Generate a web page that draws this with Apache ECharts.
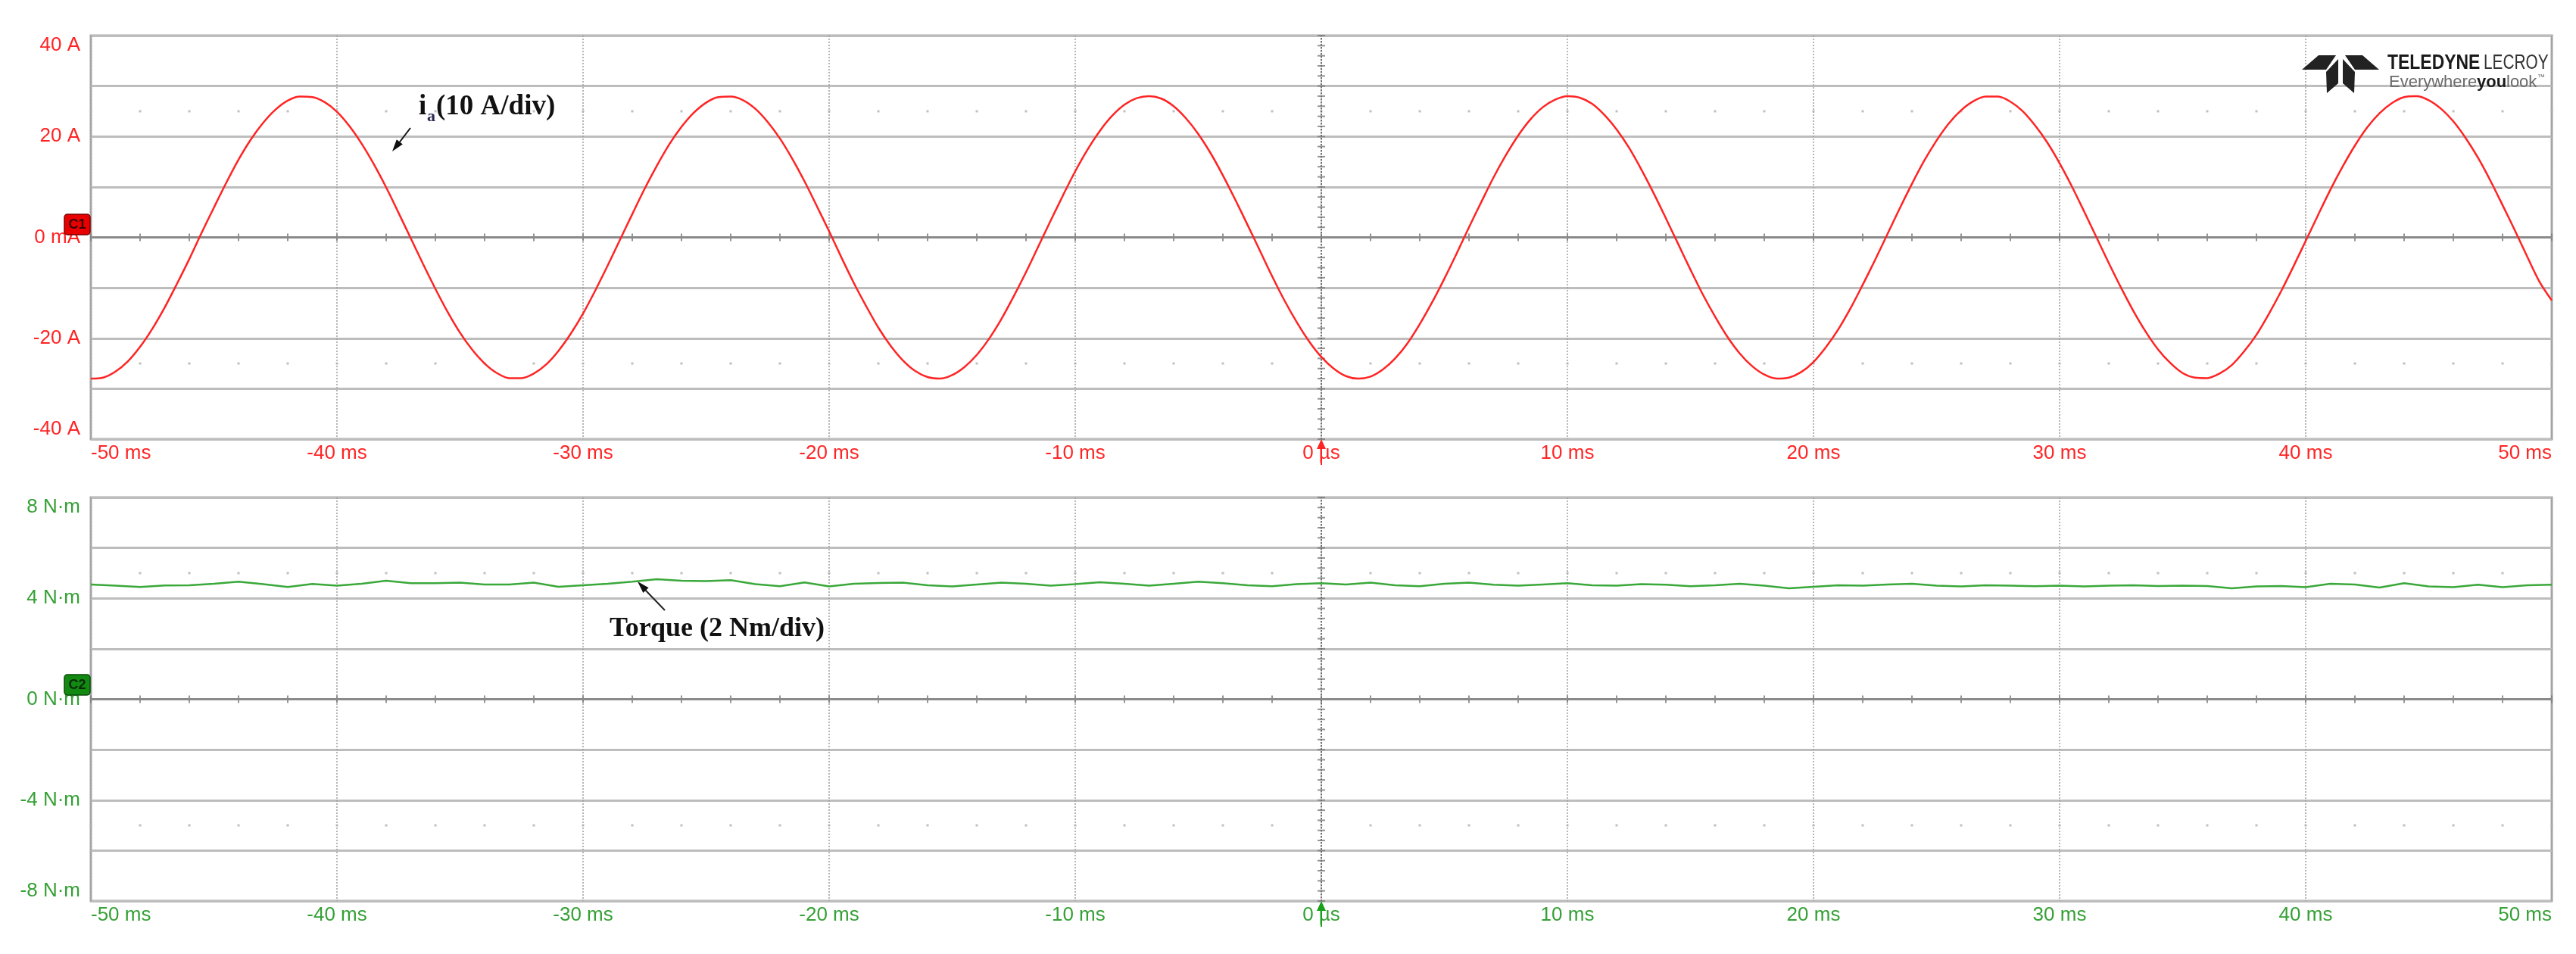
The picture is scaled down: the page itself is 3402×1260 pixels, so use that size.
<!DOCTYPE html>
<html><head><meta charset="utf-8">
<script src="https://cdn.jsdelivr.net/npm/echarts@6/dist/echarts.min.js"></script>
<style>html,body{margin:0;padding:0;background:#fff}#c{width:3402px;height:1260px}</style>
</head><body><div id="c"></div>
<script>
// ---- data ----
const currentStartMs = -50, currentStepMs = 0.5;
const currentA = [
 -28.0,-27.8,-26.6,-24.6,-21.7,-18.1,-13.9,-9.2,-4.3,0.9,
 5.9,10.8,15.4,19.4,22.7,25.3,27.1,27.9,27.8,26.8,
 24.9,22.1,18.6,14.5,9.9,4.9,-0.2,-5.3,-10.2,-14.8,
 -18.9,-22.3,-25.0,-26.9,-27.9,-27.9,-27.0,-25.2,-22.5,-19.1,
 -15.1,-10.5,-5.6,-0.5,4.6,9.6,14.2,18.4,21.9,24.7,
 26.7,27.8,27.9,27.2,25.5,22.9,19.6,15.6,11.1,6.2,
 1.2,-4.0,-9.0,-13.6,-17.9,-21.5,-24.4,-26.5,-27.7,-28.0,
 -27.3,-25.7,-23.3,-20.1,-16.2,-11.7,-6.9,-1.8,3.3,8.3,
 13.1,17.4,21.1,24.1,26.3,27.6,28.0,27.5,26.0,23.6,
 20.5,16.7,12.3,7.5,2.5,-2.6,-7.7,-12.5,-16.8,-20.6,
 -23.7,-26.0,-27.5,-28.0,-27.6,-26.2,-24.0,-21.0,-17.2,-12.9,
 -8.2,-3.2,2.0,7.0,11.9,16.3,20.2,23.4,25.8,27.3,
 28.0,27.7,26.5,24.3,21.4,17.8,13.5,8.8,3.8,-1.3,
 -6.4,-11.3,-15.7,-19.7,-23.0,-25.5,-27.2,-28.0,-27.8,-26.7,
 -24.7,-21.8,-18.3,-14.1,-9.4,-4.5,0.6,5.7,10.6,15.2,
 19.2,22.6,25.2,27.0,27.9,27.9,26.9,25.0,22.2,18.8,
 14.7,10.1,5.1,0.0,-5.1,-10.0,-14.6,-18.7,-22.2,-24.9,
 -26.9,-27.8,-27.9,-27.0,-25.3,-22.6,-19.3,-15.2,-10.7,-5.8,
 -0.7,4.4,9.4,14.0,18.2,21.8,24.6,26.6,27.8,28.0,
 27.2,25.5,23.0,19.7,15.8,11.3,6.4,1.4,-3.8,-8.8,
 -12.5];
const torqueStartMs = -50, torqueStepMs = 1;
const torqueNm = [4.55,4.50,4.45,4.51,4.52,4.58,4.66,4.56,4.45,4.57,
 4.50,4.58,4.70,4.60,4.60,4.62,4.55,4.55,4.62,4.46,
 4.52,4.58,4.66,4.76,4.70,4.68,4.72,4.56,4.48,4.63,
 4.47,4.58,4.61,4.62,4.52,4.47,4.55,4.62,4.58,4.50,
 4.56,4.64,4.58,4.50,4.58,4.66,4.60,4.52,4.48,4.56,
 4.60,4.55,4.62,4.52,4.48,4.58,4.62,4.54,4.50,4.55,
 4.60,4.52,4.50,4.56,4.54,4.48,4.52,4.58,4.50,4.40,
 4.46,4.52,4.50,4.55,4.58,4.50,4.47,4.52,4.50,4.48,
 4.50,4.47,4.50,4.52,4.49,4.50,4.49,4.40,4.47,4.49,
 4.44,4.58,4.55,4.43,4.60,4.47,4.44,4.54,4.44,4.52,4.54];
const timeTicksMs = [-50,-40,-30,-20,-10,0,10,20,30,40,50];
const currentTicksA = [-40,-20,0,20,40];
const torqueTicksNm = [-8,-4,0,4,8];
const currentLabel = 'i';
const currentSub = 'a';
const currentNote = '(10 A/div)';
const torqueNote = 'Torque (2 Nm/div)';

// ---- styles ----
const RED = '#ff2424', GREEN = '#3aa83a', GREEN_TXT = '#35a035';
const FONT = '"Liberation Sans", Arial, sans-serif';
const SERIF = '"Liberation Serif", "Times New Roman", serif';
const GRIDC = '#a8a8a8';

const pts = (arr, t0, dt) => arr.map((v, i) => [t0 + i * dt, v]);

function reticle(xMin, xMax, yMin, yMax, xMinor, yMinor, dotY) {
  const ticks = [], dots = [];
  for (let t = xMin; t <= xMax + 1e-9; t += xMinor) {
    ticks.push({value: [t, 0], symbolSize: [2, 10]});
    dots.push([t, dotY]); dots.push([t, -dotY]);
  }
  for (let v = yMin; v <= yMax + 1e-9; v += yMinor) {
    ticks.push({value: [0, +v.toFixed(3)], symbolSize: [10, 2]});
  }
  return {ticks, dots};
}
const r0 = reticle(-50, 50, -40, 40, 2, 2, 25);
const r1 = reticle(-50, 50, -8, 8, 2, 0.4, 5);

function xAxisCfg(grid, color) {
  return {
    type: 'value', gridIndex: grid, min: timeTicksMs[0], max: timeTicksMs[timeTicksMs.length - 1], interval: 10,
    axisLine: {show: false, onZero: false}, axisTick: {show: false},
    splitLine: {show: true, lineStyle: {color: '#9e9e9e', width: 1.5, type: [2, 2]}},
    axisLabel: {color, fontSize: 26, fontFamily: FONT, margin: 6,
      alignMinLabel: 'left', alignMaxLabel: 'right',
      formatter: v => v === 0 ? '0 µs' : v + ' ms'}
  };
}
function yAxisCfg(grid, color, min, max, interval, labels, fmt) {
  return {
    type: 'value', gridIndex: grid, min, max, interval,
    axisLine: {show: false, onZero: false}, axisTick: {show: false},
    splitLine: {show: true, lineStyle: {color: '#bdbdbd', width: 3}},
    axisLabel: {color, fontSize: 26, fontFamily: FONT, margin: 14,
      verticalAlignMinLabel: 'bottom', verticalAlignMaxLabel: 'top',
      formatter: v => labels.indexOf(Math.round(v * 1000) / 1000) >= 0 ? fmt(v) : ''}
  };
}

const trig = 'path://M6,0 L12,13 L7,13 L7,34 L5,34 L5,13 L0,13 Z';
const centerLines = () => ({
  silent: true, symbol: ['none', 'none'], label: {show: false}, animation: false,
  data: [
    {yAxis: 0, lineStyle: {color: '#8a8a8a', width: 3, type: 'solid'}},
    {xAxis: 0, lineStyle: {color: '#707070', width: 2, type: [2, 2]}}
  ]
});
const txt = (x, y, text, font, fill, extra) => Object.assign({type: 'text', x, y, z: 100,
  style: {text, font, fill, textVerticalAlign: 'middle', verticalAlign: 'middle'}}, extra || {});

const chart = echarts.init(document.getElementById('c'), null, {renderer: 'canvas'});
chart.setOption({
  animation: false,
  backgroundColor: '#ffffff',
  grid: [
    {left: 120, right: 32, top: 47, height: 533, show: true, borderColor: GRIDC, borderWidth: 3},
    {left: 120, right: 32, top: 657, height: 533, show: true, borderColor: GRIDC, borderWidth: 3}
  ],
  xAxis: [xAxisCfg(0, RED), xAxisCfg(1, GREEN_TXT)],
  yAxis: [
    yAxisCfg(0, RED, -40, 40, 10, currentTicksA, v => v === 0 ? '0 mA' : v + ' A'),
    yAxisCfg(1, GREEN_TXT, -8, 8, 2, torqueTicksNm, v => v + ' N·m')
  ],
  series: [
    {type: 'scatter', xAxisIndex: 0, yAxisIndex: 0, data: r0.dots, symbol: 'rect', symbolSize: 3,
     itemStyle: {color: '#b0b0b0'}, silent: true, z: 1},
    {type: 'scatter', xAxisIndex: 1, yAxisIndex: 1, data: r1.dots, symbol: 'rect', symbolSize: 3,
     itemStyle: {color: '#b0b0b0'}, silent: true, z: 1},
    {type: 'scatter', xAxisIndex: 0, yAxisIndex: 0, data: r0.ticks, symbol: 'rect',
     itemStyle: {color: '#7a7a7a'}, silent: true, z: 2, markLine: centerLines()},
    {type: 'scatter', xAxisIndex: 1, yAxisIndex: 1, data: r1.ticks, symbol: 'rect',
     itemStyle: {color: '#7a7a7a'}, silent: true, z: 2, markLine: centerLines()},
    {type: 'line', name: 'ia', xAxisIndex: 0, yAxisIndex: 0, data: pts(currentA, currentStartMs, currentStepMs),
     smooth: 0.3, showSymbol: false, lineStyle: {color: RED, width: 2.5}, z: 5,
     markPoint: {symbol: trig, symbolSize: [12, 34], symbolOffset: [0, '50%'], label: {show: false},
       itemStyle: {color: RED}, data: [{coord: [0, -40]}]}},
    {type: 'line', name: 'torque', xAxisIndex: 1, yAxisIndex: 1, data: pts(torqueNm, torqueStartMs, torqueStepMs),
     showSymbol: false, lineStyle: {color: GREEN, width: 2.5}, z: 5,
     markPoint: {symbol: trig, symbolSize: [12, 34], symbolOffset: [0, '50%'], label: {show: false},
       itemStyle: {color: '#18a018'}, data: [{coord: [0, -8]}]}}
  ],
  graphic: [
    // channel badges
    {type: 'rect', shape: {x: 85, y: 283, width: 34, height: 27, r: 4}, style: {fill: '#e80000', stroke: '#7a0000', lineWidth: 1.5}, z: 100},
    txt(102, 297, 'C1', 'bold 18px ' + FONT, '#3a0000', {style: {text: 'C1', font: 'bold 18px ' + FONT, fill: '#3a0000', textAlign: 'center', align: 'center', textVerticalAlign: 'middle', verticalAlign: 'middle'}}),
    {type: 'rect', shape: {x: 85, y: 891, width: 34, height: 27, r: 4}, style: {fill: '#128a12', stroke: '#0a4a0a', lineWidth: 1.5}, z: 100},
    txt(102, 905, 'C2', 'bold 18px ' + FONT, '#0a2a0a', {style: {text: 'C2', font: 'bold 18px ' + FONT, fill: '#0a2a0a', textAlign: 'center', align: 'center', textVerticalAlign: 'middle', verticalAlign: 'middle'}}),
    // i_a annotation
    txt(553, 141, currentLabel, 'bold 37px ' + SERIF, '#111'),
    txt(564, 154, currentSub, 'bold 22px ' + SERIF, '#2a2a50'),
    txt(576, 141, currentNote, 'bold 37px ' + SERIF, '#111'),
    {type: 'line', shape: {x1: 542, y1: 169, x2: 526, y2: 190}, style: {stroke: '#111', lineWidth: 2}, z: 100},
    {type: 'polygon', shape: {points: [[518, 200], [531.8, 190.4], [523.8, 184.2]]}, style: {fill: '#111'}, z: 100},
    // torque annotation
    txt(805, 831, torqueNote, 'bold 36px ' + SERIF, '#111'),
    {type: 'line', shape: {x1: 878, y1: 806, x2: 851, y2: 778}, style: {stroke: '#222', lineWidth: 2}, z: 100},
    {type: 'polygon', shape: {points: [[842, 768], [856.6, 776.2], [849.4, 783.0]]}, style: {fill: '#111'}, z: 100},
    // logo
    {type: 'polygon', shape: {points: [[3040, 92], [3062, 73], [3085, 73], [3072, 92]]}, style: {fill: '#222'}, z: 100},
    {type: 'polygon', shape: {points: [[3097, 73], [3120, 73], [3142, 92], [3110, 92]]}, style: {fill: '#222'}, z: 100},
    {type: 'polygon', shape: {points: [[3072, 95], [3088, 78], [3088, 110], [3073, 123]]}, style: {fill: '#222'}, z: 100},
    {type: 'polygon', shape: {points: [[3094, 78], [3110, 95], [3109, 123], [3094, 110]]}, style: {fill: '#222'}, z: 100},
    txt(3153, 84, 'TELEDYNE', 'bold 27px ' + FONT, '#1a1a1a', {scaleX: 0.85}),
    txt(3280, 84, 'LECROY', '27px ' + FONT, '#333', {scaleX: 0.77}),
    txt(3155, 109, 'Everywhere', '22px ' + FONT, '#6a6a6a'),
    txt(3271, 109, 'you', 'bold 22px ' + FONT, '#1a1a1a'),
    txt(3310, 109, 'look', '22px ' + FONT, '#6a6a6a'),
    txt(3351, 102, '™', '10px ' + FONT, '#6a6a6a')
  ]
});
</script></body></html>
